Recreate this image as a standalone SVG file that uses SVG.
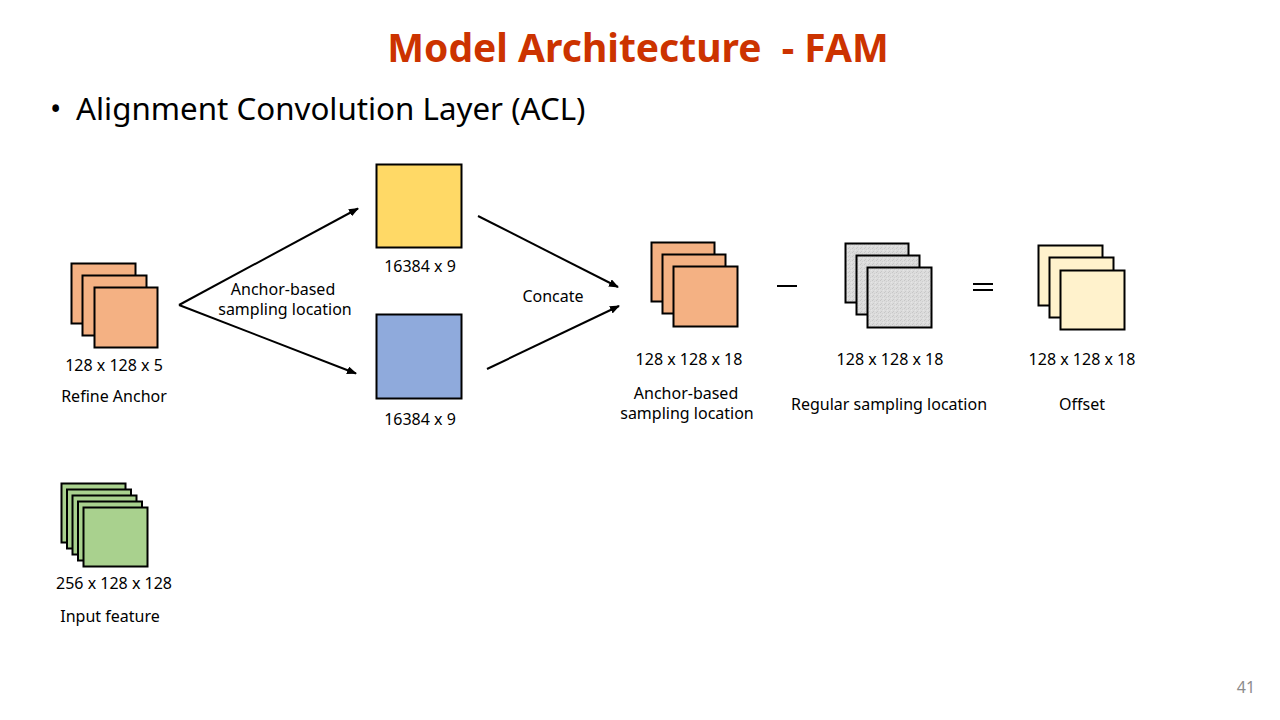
<svg xmlns="http://www.w3.org/2000/svg" width="1280" height="720" viewBox="0 0 1280 720">
<defs>
<marker id="ah" markerWidth="10" markerHeight="8" refX="9" refY="4" orient="auto" markerUnits="userSpaceOnUse">
<path d="M0,0 L10,4 L0,8 z" fill="#000"/>
</marker>
<pattern id="grain" width="4" height="4" patternUnits="userSpaceOnUse">
<rect width="4" height="4" fill="#dcdcdc"/>
<rect x="0" y="0" width="1" height="1" fill="#c6c6c6"/>
<rect x="2" y="1" width="1" height="1" fill="#cfcfcf"/>
<rect x="1" y="3" width="1" height="1" fill="#c9c9c9"/>
<rect x="3" y="2" width="1" height="1" fill="#e6e6e6"/>
</pattern>
<style>
text{font-family:"Noto Sans","Noto Sans CJK KR","DejaVu Sans",sans-serif;fill:#000}
.lbl{font-size:16px;text-anchor:middle}
.box{stroke:#000;stroke-width:2}
.or{fill:#f4b183}
.gr{fill:#a9d18e}
.gy{fill:url(#grain)}
.of{fill:#fff2cc}
.conn{stroke:#000;stroke-width:2;fill:none;marker-end:url(#ah)}
</style>
</defs>
<rect width="1280" height="720" fill="#fff"/>
<text x="638" y="62" style="font-size:39px;font-weight:bold;fill:#cc3300" text-anchor="middle">Model Architecture &#160;- FAM</text>
<text x="50" y="120" style="font-size:30px">•</text>
<text x="76" y="120" style="font-size:31.3px">Alignment Convolution Layer (ACL)</text>

<g id="refine-anchor">
<rect class="box or" x="71.5" y="263.5" width="64" height="60"/>
<rect class="box or" x="82.5" y="275.5" width="64" height="60"/>
<rect class="box or" x="94.5" y="287.5" width="63" height="60"/>
<text class="lbl" x="114" y="371">128 x 128 x 5</text>
<text class="lbl" x="114" y="402">Refine Anchor</text>
</g>

<g id="input-feature">
<rect class="box gr" x="61.5" y="483.5" width="64" height="59"/>
<rect class="box gr" x="67" y="489.5" width="64" height="59"/>
<rect class="box gr" x="72.5" y="495.5" width="64" height="59"/>
<rect class="box gr" x="78" y="501.5" width="64" height="59"/>
<rect class="box gr" x="83.5" y="507.5" width="64" height="59"/>
<text class="lbl" x="114" y="589">256 x 128 x 128</text>
<text class="lbl" x="110" y="622">Input feature</text>
</g>

<g id="yellow-block">
<rect class="box" fill="#ffd966" x="376.5" y="164.5" width="85" height="83"/>
<text class="lbl" x="420" y="272">16384 x 9</text>
</g>

<g id="blue-block">
<rect class="box" fill="#8faadc" x="376.5" y="314.5" width="85" height="84"/>
<text class="lbl" x="420" y="425">16384 x 9</text>
</g>

<g id="anchor-sampling">
<rect class="box or" x="651.5" y="242.5" width="63" height="59"/>
<rect class="box or" x="662.5" y="254.5" width="63" height="59"/>
<rect class="box or" x="673.5" y="266.5" width="64" height="60"/>
<text class="lbl" x="689" y="365">128 x 128 x 18</text>
<text class="lbl" x="686" y="399">Anchor-based</text>
<text class="lbl" x="687" y="419">sampling location</text>
</g>

<g id="minus">
<line x1="777" y1="286" x2="797" y2="286" stroke="#000" stroke-width="2"/>
</g>

<g id="regular-sampling">
<rect class="box gy" x="845.5" y="243.5" width="63" height="59"/>
<rect class="box gy" x="856.5" y="255.5" width="63" height="59"/>
<rect class="box gy" x="867.5" y="267.5" width="64" height="60"/>
<text class="lbl" x="890" y="365">128 x 128 x 18</text>
<text class="lbl" x="889" y="410">Regular sampling location</text>
</g>

<g id="equals">
<line x1="973" y1="284" x2="993" y2="284" stroke="#000" stroke-width="2"/>
<line x1="973" y1="290" x2="993" y2="290" stroke="#000" stroke-width="2"/>
</g>

<g id="offset">
<rect class="box of" x="1038.5" y="245.5" width="64" height="60"/>
<rect class="box of" x="1049.5" y="257.5" width="64" height="60"/>
<rect class="box of" x="1060.5" y="270.5" width="64" height="59"/>
<text class="lbl" x="1082" y="365">128 x 128 x 18</text>
<text class="lbl" x="1082" y="410">Offset</text>
</g>

<g id="connectors">
<line class="conn" x1="179" y1="305" x2="358" y2="208.5"/>
<line class="conn" x1="179" y1="305" x2="356" y2="373.5"/>
<line class="conn" x1="478" y1="216" x2="618" y2="287"/>
<line class="conn" x1="487" y1="369" x2="619" y2="306"/>
<text class="lbl" x="283" y="295">Anchor-based</text>
<text class="lbl" x="285" y="315">sampling location</text>
<text class="lbl" x="553" y="302">Concate</text>
</g>

<text x="1246" y="693" style="font-size:16px;fill:#8c8c8c" text-anchor="middle">41</text>
</svg>
